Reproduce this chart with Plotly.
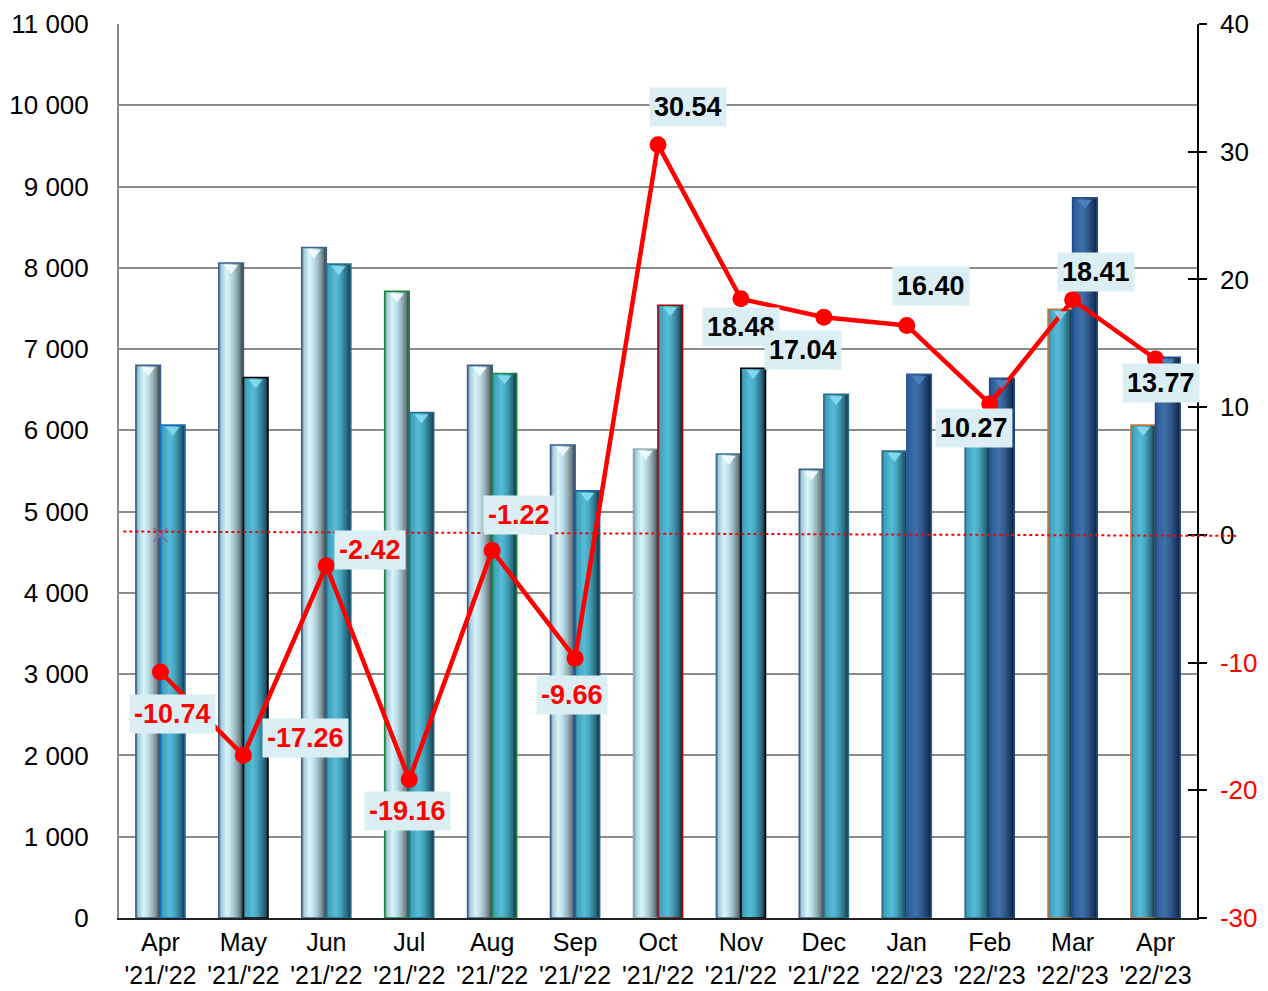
import plotly.graph_objects as go

months = ["Apr", "May", "Jun", "Jul", "Aug", "Sep", "Oct", "Nov", "Dec", "Jan", "Feb", "Mar", "Apr"]
years = ["'21/'22"] * 9 + ["'22/'23"] * 4
categories = [f"{m}<br>{y}" for m, y in zip(months, years)]

prev_values = [6800, 8060, 8250, 7710, 6800, 5820, 5770, 5710, 5520, 5745, 6020, 7490, 6065]
curr_values = [6065, 6650, 8045, 6220, 6700, 5255, 7540, 6765, 6445, 6690, 6640, 8860, 6900]
pct_change = [-10.74, -17.26, -2.42, -19.16, -1.22, -9.66, 30.54, 18.48, 17.04, 16.40, 10.27, 18.41, 13.77]

left_ticks = list(range(0, 11001, 1000))
right_ticks = [-30, -20, -10, 0, 10, 20, 30, 40]

# label placement (pixel shifts)
label_shift = [(12, -42), (62, 17), (44, 16), (-2, -31), (27, 35), (-3, -37), (30, 38),
               (0, -28), (-21, -33), (24, 39), (-16, -24), (23, 28), (5, -24)]

# --- styling helpers ---
def hex_to_rgb(h):
    h = h.lstrip("#")
    return tuple(int(h[i:i + 2], 16) for i in (0, 2, 4))

def grad(stops, t):
    for (t0, c0), (t1, c1) in zip(stops, stops[1:]):
        if t0 <= t <= t1:
            f = (t - t0) / (t1 - t0) if t1 > t0 else 0
            a, b = hex_to_rgb(c0), hex_to_rgb(c1)
            return "rgb(%d,%d,%d)" % tuple(round(a[i] + (b[i] - a[i]) * f) for i in range(3))
    return stops[-1][1]

PAL = {
    "light": [(0, "#5e7f9a"), (0.08, "#a2c9d8"), (0.32, "#d8f3fa"), (0.48, "#c0e2ec"),
              (0.68, "#9cb6be"), (0.87, "#6c7f84"), (1.0, "#3a484e")],
    "teal": [(0, "#2f7f96"), (0.1, "#40a2bd"), (0.38, "#56bdd8"), (0.58, "#46a4be"),
             (0.78, "#2f788e"), (0.92, "#1f5466"), (1.0, "#143844")],
    "navy": [(0, "#24528a"), (0.12, "#3163a0"), (0.38, "#4170a8"), (0.62, "#30598c"),
             (0.85, "#1b3a62"), (1.0, "#0f2340")],
}
BEVEL = {"light": "#f2fcff", "teal": "#86dcf2", "navy": "#4f82c0"}
prev_pal = ["light"] * 9 + ["teal"] * 4
curr_pal = ["teal"] * 9 + ["navy"] * 4
prev_border = ["#3d5f8c", "#3d5f8c", "#3d5f8c", "#1a8a3a", "#3d5f8c", "#3d5f8c", "#9ab0b8",
               "#3d6f8c", "#3d5f8c", "#2f6f8c", "#2f6f8c", "#c87533", "#c87533"]
curr_border = ["#1a6fc0", "#000000", "#2a6f8a", "#2a6f8a", "#1a8a3a", "#1a5fa0", "#a00000",
               "#000000", "#2a6f8a", "#2a5f9a", "#1f4f8a", "#1f4f8a", "#1f4f8a"]

BW = 0.296
N = 14
fig = go.Figure()

def add_cylinder(values, pals, borders, base):
    for k in range(N):
        t = (k + 0.5) / N
        colors = [grad(PAL[p], t) for p in pals]
        fig.add_trace(go.Bar(
            x=categories, y=values, offset=base + k * BW / N, width=BW - k * BW / N,
            marker=dict(color=colors, line=dict(width=0)), showlegend=False,
            hoverinfo="skip", yaxis="y"))
    fig.add_trace(go.Bar(
        x=categories, y=values, offset=base, width=BW,
        marker=dict(color="rgba(0,0,0,0)", line=dict(color=borders, width=1.6)),
        showlegend=False, hoverinfo="skip", yaxis="y"))
    # small bevel triangle just inside the top of each cylinder
    fig.add_trace(go.Scatter(
        x=[i + base + BW / 2 for i in range(len(values))], y=values,
        xaxis="x2", yaxis="y", mode="markers",
        marker=dict(symbol="triangle-down", angle=0, standoff=5, size=12,
                    color=[BEVEL[p] for p in pals], opacity=0.9, line=dict(width=0)),
        showlegend=False, hoverinfo="skip"))

add_cylinder(prev_values, prev_pal, prev_border, -BW)
add_cylinder(curr_values, curr_pal, curr_border, 0)

fig.add_trace(go.Scatter(
    x=[categories[0]], y=[0], yaxis="y2", mode="markers",
    marker=dict(symbol="x-thin", size=14, line=dict(color="#8a6aa8", width=1.5)),
    showlegend=False, hoverinfo="skip"))

fig.add_trace(go.Scatter(
    x=categories, y=pct_change, yaxis="y2", mode="lines+markers",
    line=dict(color="#ff0000", width=4.5),
    marker=dict(color="#ff0000", size=17), showlegend=False))

for i, (c, v) in enumerate(zip(categories, pct_change)):
    dx, dy = label_shift[i]
    fig.add_annotation(
        x=c, y=v, yref="y2", xref="x", text=f"<b>{v:.2f}</b>", showarrow=False,
        xshift=dx, yshift=dy, bgcolor="#dbeef4", borderpad=4,
        font=dict(family="Arial, Liberation Sans", size=27,
                  color="#ff0000" if v < 0 else "#000000"))

fig.add_shape(type="line", xref="paper", yref="y2", x0=0.004, x1=1.037, y0=0.26, y1=-0.08,
              line=dict(color="#ff0000", width=2, dash="dot"), layer="above")

right_text = [f'<span style="color:#ff0000">{v}</span>' if v < 0 else str(v) for v in right_ticks]

# page body has an 8px margin: size the figure so the plot lands where the reference has it
fig.update_layout(
    width=1260, height=983,
    margin=dict(l=111, r=71, t=16, b=73, autoexpand=False),
    paper_bgcolor="white", plot_bgcolor="white",
    barmode="overlay",
    separators=". ",
    font=dict(family="Arial, Liberation Sans", size=26, color="#000000"),
    xaxis=dict(type="category", showgrid=False, showline=True, linecolor="#222222",
               linewidth=2, ticks="", tickfont=dict(size=25), range=[-0.5, 12.5],
               ticklabelstandoff=1, automargin=False),
    xaxis2=dict(overlaying="x", range=[-0.5, 12.5], visible=False, automargin=False),
    yaxis=dict(range=[0, 11000], tickvals=left_ticks, tickformat=",d",
               showgrid=True, gridcolor="#8c8c8c", gridwidth=2,
               showline=True, linecolor="#8c8c8c", linewidth=2, ticks="",
               ticklabelstandoff=23, zeroline=False, tickfont=dict(size=26),
               automargin=False),
    yaxis2=dict(range=[-30, 40], overlaying="y", side="right", tickvals=right_ticks,
                ticktext=right_text, showgrid=False, zeroline=False,
                showline=True, linecolor="#000000", linewidth=1.5,
                ticks="outside", ticklen=8, tickcolor="#000000", tickwidth=1.5,
                ticklabelstandoff=8, tickfont=dict(size=26), automargin=False),
    yaxis3=dict(range=[-30, 40], overlaying="y", side="right", tickvals=right_ticks,
                showticklabels=False, showgrid=False, zeroline=False,
                ticks="inside", ticklen=9, tickcolor="#000000", tickwidth=1.5,
                showline=False, automargin=False),
)
fig.add_trace(go.Scatter(x=[categories[0]], y=[None], yaxis="y3", showlegend=False,
                         hoverinfo="skip"))

fig.write_html("out.html")
